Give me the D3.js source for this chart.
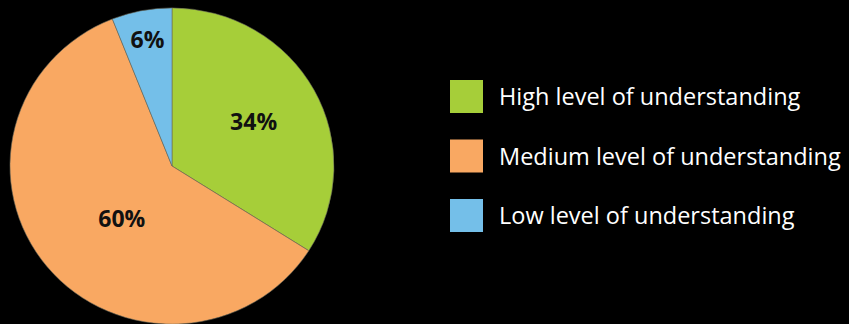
<!DOCTYPE html>
<html>
<head>
<meta charset="utf-8">
<script src="https://cdnjs.cloudflare.com/ajax/libs/d3/7.8.5/d3.min.js"></script>
<style>
  html, body { margin:0; padding:0; background:#000; }
  #chart { width:849px; height:324px; }
</style>
</head>
<body>
<div id="chart"></div>
<script>
const categories = ["High level of understanding", "Medium level of understanding", "Low level of understanding"];
const values = [34, 60, 6];
const labels = ["34%", "60%", "6%"];
const colors = ["#a6ce39", "#f9a862", "#74bfe9"];

const width = 849, height = 324;
const svg = d3.select("#chart").append("svg")
    .attr("width", width).attr("height", height);

const radius = 162;
const pieG = svg.append("g")
    .attr("transform", "translate(172,166) scale(1,0.976)");

const pie = d3.pie().sort(null).value(d => d)(values);
const arc = d3.arc().innerRadius(0).outerRadius(radius);

pieG.selectAll("path")
  .data(pie)
  .enter().append("path")
  .attr("d", arc)
  .attr("fill", (d, i) => colors[i])
  .attr("stroke", "#6a6a5a")
  .attr("stroke-width", 0.6);

// label positions along the slice bisector (60% label sits a bit off it)
const labelR = [0.575, 0.455, 0.81];
const labelShift = [0, -0.13, 0];
pieG.selectAll("text")
  .data(pie)
  .enter().append("text")
  .attr("transform", (d, i) => {
    const a = (d.startAngle + d.endAngle) / 2 + labelShift[i];
    const r = radius * labelR[i];
    return "translate(" + (Math.sin(a) * r) + "," + (-Math.cos(a) * r) + ") scale(1," + (1/0.976) + ")";
  })
  .attr("text-anchor", "middle")
  .attr("dy", "0.36em")
  .attr("font-family", "'Open Sans', sans-serif")
  .attr("font-weight", "bold")
  .attr("font-size", "23px")
  .attr("fill", "#111")
  .text((d, i) => labels[i]);

// legend
const legend = svg.append("g").attr("transform", "translate(450,80)");
const item = legend.selectAll("g")
  .data(categories)
  .enter().append("g")
  .attr("transform", (d, i) => "translate(0," + (i * 59.5) + ")");

item.append("rect")
  .attr("width", 33).attr("height", 33)
  .attr("fill", (d, i) => colors[i]);

item.append("text")
  .attr("x", 49).attr("y", 25)
  .attr("font-family", "'Open Sans', sans-serif")
  .attr("font-size", "23.5px")
  .attr("fill", "#fff")
  .text(d => d);
</script>
</body>
</html>
